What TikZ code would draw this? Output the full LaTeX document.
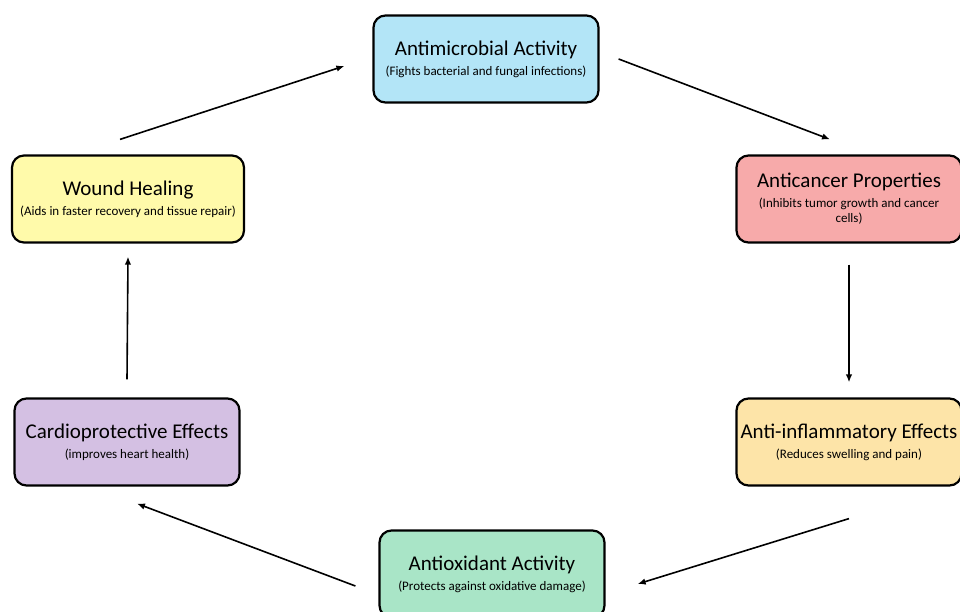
\documentclass[tikz,border=0pt]{standalone}
\usepackage{fontspec}
\setmainfont{Carlito}
\usetikzlibrary{arrows.meta}
\definecolor{microblue}{HTML}{B3E5F7}
\definecolor{cancerpink}{HTML}{F7AAAA}
\definecolor{inflamorange}{HTML}{FDE4A8}
\definecolor{oxidgreen}{HTML}{A9E5C7}
\definecolor{cardiopurple}{HTML}{D4C0E3}
\definecolor{woundyellow}{HTML}{FFFAAA}
\newcommand{\hd}[1]{{\fontsize{21}{24}\selectfont #1}\\[5pt]}

\begin{document}
\begin{tikzpicture}[x=1pt, y=-1pt,
  effect/.style={draw, line width=2.2pt, rounded corners=12pt,
    minimum width=225pt, minimum height=87pt, align=center, inner xsep=2pt,
    font=\fontsize{13}{15}\selectfont},
  flow/.style={-{Latex[length=8pt,width=6.5pt]}, line width=1.6pt}]
  \clip (0,0) rectangle (960,612);
  \node[effect, fill=microblue] (micro) at (486,59)
    {\hd{Antimicrobial Activity}(Fights bacterial and fungal infections)};
  \node[effect, fill=cancerpink] (cancer) at (849,199)
    {\hd{Anticancer Properties}(Inhibits tumor growth and cancer\\cells)};
  \node[effect, fill=inflamorange] (inflam) at (849,442)
    {\hd{Anti-inflammatory Effects}(Reduces swelling and pain)};
  \node[effect, fill=oxidgreen] (oxid) at (492,574)
    {\hd{Antioxidant Activity}(Protects against oxidative damage)};
  \node[effect, fill=cardiopurple] (cardio) at (127,442)
    {\hd{Cardioprotective Effects}(improves heart health)};
  \node[effect, fill=woundyellow, minimum width=232pt] (wound) at (128,199)
    {\hd{Wound Healing}(Aids in faster recovery and tissue repair)};

  % cycle, clockwise from the top
  \draw[flow] ([xshift=19pt]micro.east) -- ([xshift=-19pt,yshift=15pt]cancer.north);
  \draw[flow] ([yshift=-21pt]cancer.south) -- ([yshift=15pt]inflam.north);
  \draw[flow] ([yshift=-32pt]inflam.south) -- ([xshift=32pt,yshift=-10pt]oxid.east);
  \draw[flow] ([xshift=-23pt,yshift=-12pt]oxid.west) -- ([xshift=10pt,yshift=-17pt]cardio.south);
  \draw[flow] ([yshift=18pt]cardio.north) -- ([yshift=-13pt]wound.south);
  \draw[flow] ([xshift=-8pt,yshift=15pt]wound.north) -- ([xshift=-28pt,yshift=-7pt]micro.west);
\end{tikzpicture}
\end{document}
